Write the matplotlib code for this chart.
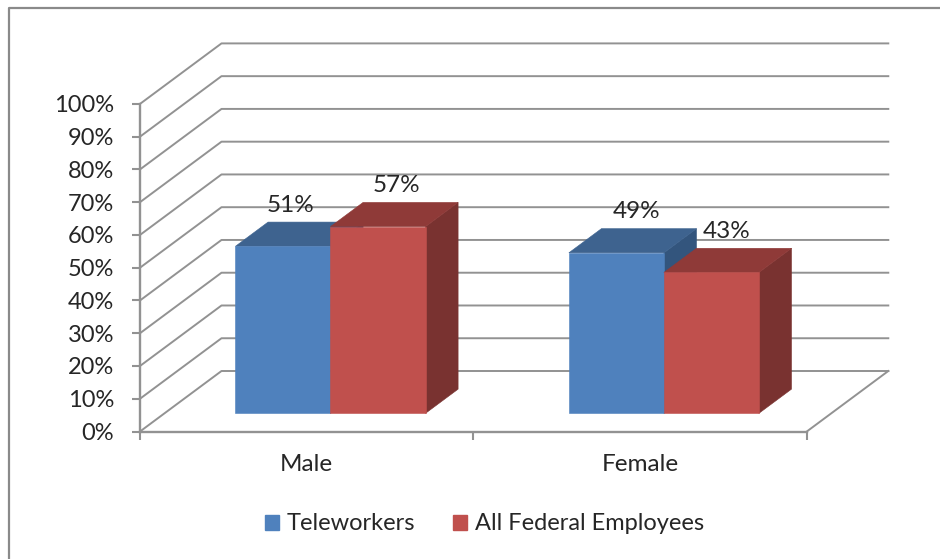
import matplotlib.pyplot as plt
from matplotlib.lines import Line2D
from matplotlib.patches import Patch, Polygon
from matplotlib.ticker import PercentFormatter

plt.rcParams['font.family'] = ['Lato', 'DejaVu Sans']

categories = ['Male', 'Female']
teleworkers = [51, 49]
all_federal = [57, 43]
series_names = ['Teleworkers', 'All Federal Employees']
y_ticks = list(range(0, 101, 10))

W, H = 940, 559
GRID = '#929292'
TEXT = '#262626'
# front, top, side
BLUE = ('#4f81bd', '#3e638f', '#33557d')
RED = ('#c0504d', '#8f3a38', '#793230')

# shift of the back wall from the front plane, in data units
DEPTH_X = 81.5 / 333.4
DEPTH_Y = 60.5 / 3.276
BAR_W = 0.285
BAR_GAP = 0.215
DEPTH_NEAR, DEPTH_FAR = 0.3, 0.7


def project(x, y, d):
    return x + d * DEPTH_X, y + d * DEPTH_Y


def draw_bar(ax, left, value, colors, zorder):
    right = left + BAR_W
    front = [project(left, 0, DEPTH_NEAR), project(right, 0, DEPTH_NEAR),
             project(right, value, DEPTH_NEAR), project(left, value, DEPTH_NEAR)]
    top = [project(left, value, DEPTH_NEAR), project(right, value, DEPTH_NEAR),
           project(right, value, DEPTH_FAR), project(left, value, DEPTH_FAR)]
    side = [project(right, 0, DEPTH_NEAR), project(right, 0, DEPTH_FAR),
            project(right, value, DEPTH_FAR), project(right, value, DEPTH_NEAR)]
    for pts, color in zip((side, top, front), (colors[2], colors[1], colors[0])):
        ax.add_patch(Polygon(pts, closed=True, facecolor=color, edgecolor=color,
                             linewidth=0.4, clip_on=False, zorder=zorder))


fig = plt.figure(figsize=(W / 100, H / 100), dpi=100, facecolor='white')
ax = fig.add_axes([140 / W, 1 - 431.5 / H, 666.8 / W, 327.6 / H])
ax.set_xlim(0, len(categories))
ax.set_ylim(0, 100)
ax.patch.set_visible(False)

# outer chart frame, runs off the top right of the picture
fig.add_artist(Line2D([9 / W, 9 / W, 1], [0, 1 - 8 / H, 1 - 8 / H],
                      color='#8a8a8a', lw=1.6))

# walls
for v in y_ticks:
    xs, ys = zip(project(0, v, 0), project(0, v, 1), project(len(categories), v, 1))
    ax.plot(xs, ys, color=GRID, lw=1.4, clip_on=False, zorder=1)
xs, ys = zip(project(len(categories), 0, 0), project(len(categories), 0, 1))
ax.plot(xs, ys, color=GRID, lw=1.4, clip_on=False, zorder=1)

# bars, back to front order matters only inside a group
label_nudge = [8, 18, 20, 15]
i = 0
for c, _ in enumerate(categories):
    for s, (values, colors) in enumerate(((teleworkers, BLUE), (all_federal, RED))):
        left = c + BAR_GAP + s * BAR_W - 0.002
        draw_bar(ax, left, values[c], colors, 3 + s)
        ax.annotate(f'{values[c]}%',
                    xy=project(left + BAR_W / 2, values[c], DEPTH_NEAR),
                    xytext=(label_nudge[i], 41), textcoords='offset pixels',
                    ha='center', va='center', fontsize=17.5, color=TEXT, zorder=6,
                    annotation_clip=False)
        i += 1

for side in ('top', 'right'):
    ax.spines[side].set_visible(False)
for side in ('left', 'bottom'):
    ax.spines[side].set_color(GRID)
    ax.spines[side].set_linewidth(1.7)
    ax.spines[side].set_zorder(2)

ax.set_yticks(y_ticks)
ax.yaxis.set_major_formatter(PercentFormatter(100, decimals=0))
ax.set_xticks(range(len(categories) + 1))
ax.set_xticklabels([])
ax.set_xticks([c + 0.5 for c in range(len(categories))], minor=True)
ax.set_xticklabels(categories, minor=True)
ax.tick_params(axis='y', length=6, width=1.5, color=GRID, labelsize=17,
               labelcolor=TEXT, pad=12.5)
ax.tick_params(axis='x', which='major', length=6, width=1.5, color=GRID)
ax.tick_params(axis='x', which='minor', length=0, labelsize=17.5, labelcolor=TEXT, pad=16)

handles = [Patch(facecolor=BLUE[0], edgecolor=BLUE[0]), Patch(facecolor=RED[0], edgecolor=RED[0])]
fig.legend(handles, series_names, ncol=2, frameon=False, fontsize=17,
           labelcolor=TEXT, loc='center', bbox_to_anchor=(484.5 / W, 1 - 524 / H),
           handlelength=0.6, handleheight=0.6, handletextpad=0.34, columnspacing=1.6)

fig.savefig('out.png', dpi=100)
